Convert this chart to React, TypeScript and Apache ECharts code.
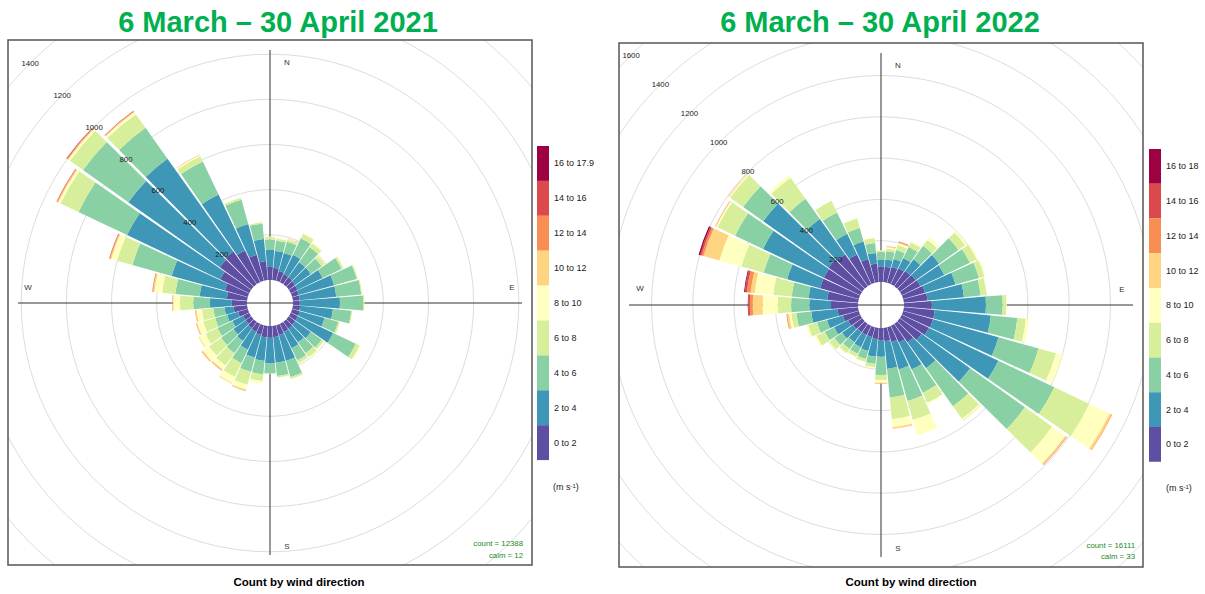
import React, { useEffect, useRef } from "react";
import * as echarts from "echarts";

// ---------- data ----------
const directions = [0, 10, 20, 30, 40, 50, 60, 70, 80, 90, 100, 110, 120, 130, 140, 150, 160, 170, 180, 190, 200, 210, 220, 230, 240, 250, 260, 270, 280, 290, 300, 310, 320, 330, 340, 350];

const bins2021 = ["0 to 2", "2 to 4", "4 to 6", "6 to 8", "8 to 10", "10 to 12", "12 to 14", "14 to 16", "16 to 17.9"];
const bins2022 = ["0 to 2", "2 to 4", "4 to 6", "6 to 8", "8 to 10", "10 to 12", "12 to 14", "14 to 16", "16 to 18"];
const binColors = ["#5E4FA2", "#3F97B7", "#89D0A5", "#D7EF9B", "#FFFFBF", "#FED481", "#F98E52", "#DC494C", "#9E0142"];

const radialTicks2021 = [200, 400, 600, 800, 1000, 1200, 1400];
const radialTicks2022 = [200, 400, 600, 800, 1000, 1200, 1400, 1600];

// 2021 counts per direction, one array per speed bin
const s2021_0to2 = [60, 55, 45, 40, 38, 35, 33, 30, 30, 30, 32, 35, 35, 35, 38, 40, 45, 50, 52, 52, 45, 40, 35, 30, 30, 45, 60, 68, 90, 105, 142, 171, 178, 156, 120, 85];
const s2021_2to4 = [74, 75, 83, 95, 82, 85, 123, 163, 163, 178, 146, 114, 173, 85, 74, 80, 119, 114, 113, 104, 104, 87, 70, 67, 53, 50, 40, 96, 121, 245, 457, 497, 504, 274, 141, 98];
const s2021_4to6 = [45, 45, 52, 81, 81, 59, 93, 104, 111, 103, 82, 63, 111, 59, 59, 59, 74, 59, 45, 59, 66, 66, 66, 67, 73, 55, 50, 74, 108, 180, 238, 246, 168, 162, 112, 68];
const s2021_6to8 = [11, 9, 10, 22, 21, 17, 10, 5, 4, 5, 4, 7, 19, 11, 22, 14, 9, 7, 2, 30, 59, 67, 67, 66, 59, 55, 50, 59, 59, 70, 88, 71, 74, 26, 9, 6];
const s2021_8to10 = [2, 2, 2, 3, 5, 2, 2, 2, 2, 1, 2, 2, 4, 3, 7, 3, 2, 0, 1, 12, 22, 30, 21, 32, 30, 27, 25, 29, 34, 27, 11, 9, 10, 6, 2, 1];
const s2021_10to12 = [1, 1, 1, 0, 0, 0, 0, 0, 0, 0, 0, 0, 0, 0, 0, 0, 0, 0, 0, 0, 5, 4, 5, 6, 3, 4, 5, 3, 6, 5, 4, 4, 4, 1, 0, 0];
const s2021_12to14 = [0, 0, 1, 0, 0, 0, 0, 0, 0, 0, 0, 0, 0, 0, 0, 0, 0, 0, 0, 0, 2, 0, 2, 2, 0, 2, 2, 2, 3, 3, 3, 3, 2, 1, 0, 0];
const s2021_14to16 = [0, 0, 1, 0, 0, 0, 0, 0, 0, 0, 0, 0, 0, 0, 0, 0, 0, 0, 0, 0, 0, 0, 0, 0, 0, 0, 0, 0, 1, 2, 2, 2, 2, 0, 0, 0];
const s2021_16to18 = [0, 0, 0, 0, 0, 0, 0, 0, 0, 0, 0, 0, 0, 0, 0, 0, 0, 0, 0, 0, 0, 0, 0, 0, 0, 0, 0, 0, 0, 0, 0, 1, 0, 0, 0, 0];

// 2022 counts per direction, one array per speed bin
const s2022_0to2 = [75, 75, 80, 85, 90, 95, 100, 110, 115, 135, 150, 150, 145, 130, 110, 90, 75, 65, 60, 55, 50, 50, 50, 55, 65, 80, 100, 131, 150, 195, 195, 200, 190, 160, 120, 90];
const s2022_2to4 = [32, 35, 40, 55, 70, 139, 128, 153, 177, 262, 273, 329, 373, 288, 155, 145, 137, 134, 79, 85, 70, 65, 60, 65, 75, 80, 128, 105, 91, 165, 326, 388, 210, 110, 87, 52];
const s2022_4to6 = [38, 40, 45, 60, 80, 115, 137, 118, 81, 81, 129, 201, 300, 326, 225, 125, 159, 140, 89, 35, 40, 35, 40, 45, 50, 50, 72, 88, 82, 118, 150, 120, 120, 115, 68, 48];
const s2022_6to8 = [7, 13, 25, 25, 35, 40, 37, 27, 29, 18, 42, 88, 188, 162, 75, 53, 95, 105, 24, 17, 15, 18, 25, 30, 45, 45, 25, 65, 90, 112, 94, 77, 125, 62, 48, 25];
const s2022_8to10 = [3, 7, 10, 7, 14, 10, 7, 6, 3, 3, 15, 32, 108, 77, 8, 5, 78, 39, 13, 4, 2, 3, 5, 5, 10, 10, 10, 73, 90, 110, 8, 7, 14, 2, 3, 3];
const s2022_10to12 = [0, 4, 3, 0, 0, 0, 0, 0, 0, 0, 0, 0, 11, 8, 3, 0, 0, 6, 5, 0, 0, 0, 0, 0, 0, 0, 10, 48, 20, 80, 3, 3, 0, 0, 0, 0];
const s2022_12to14 = [0, 2, 3, 0, 0, 0, 0, 0, 0, 0, 0, 0, 3, 3, 0, 0, 0, 2, 1, 0, 0, 0, 0, 0, 0, 0, 4, 14, 18, 10, 2, 1, 0, 0, 0, 0];
const s2022_14to16 = [0, 0, 2, 0, 0, 0, 0, 0, 0, 0, 0, 0, 0, 0, 0, 0, 0, 0, 0, 0, 0, 0, 0, 0, 0, 0, 0, 8, 10, 8, 0, 0, 0, 0, 0, 0];
const s2022_16to18 = [0, 0, 0, 0, 0, 0, 0, 0, 0, 0, 0, 0, 0, 0, 0, 0, 0, 0, 0, 0, 0, 0, 0, 0, 0, 0, 0, 2, 4, 7, 0, 0, 0, 0, 0, 0];

const title2021 = "6 March \u2013 30 April 2021";
const title2022 = "6 March \u2013 30 April 2022";
const caption = "Count by wind direction";
const count2021 = "count = 12388";
const calm2021 = "calm = 12";
const count2022 = "count = 16111";
const calm2022 = "calm = 33";
const compass = ["N", "E", "S", "W"];

// ---------- option builder ----------
const FONT = '"Liberation Sans", Arial, Helvetica, sans-serif';

type Layout = {
  W: number; H: number;
  cx: number; cy: number; inner: number; outer: number;
  frame: [number, number, number, number];
  titleX: number; captionX: number;
  legendTop: number; legendItemH: number; legendLeft: number;
  unitX: number; unitY: number;
  countX: number; countY: number; calmY: number;
  nesw: [number, number][];
};

function buildOption(
  title: string, names: string[], values: number[][], ticks: number[],
  countTxt: string, calmTxt: string, L: Layout
) {
  const max = ticks[ticks.length - 1];
  const interval = ticks[1] - ticks[0];
  const [fx, fy, fw, fh] = L.frame;
  const gridColors = ["rgba(0,0,0,0)", ...ticks.map(() => "#dddddd")];
  const cover = (x: number, y: number, w: number, h: number) => ({
    type: "rect", silent: true, z: 10,
    shape: { x, y, width: w, height: h },
    style: { fill: "#ffffff" },
  });
  const txt = (text: string, x: number, y: number, size: number, extra: any = {}, z = 12) => ({
    type: "text", x, y, z, silent: true,
    style: {
      text, fontSize: size, fontFamily: FONT, fill: "#1a1a1a",
      align: "center", verticalAlign: "middle", ...extra,
    },
  });

  return {
    animation: false,
    textStyle: { fontFamily: FONT },
    polar: [
      { center: [L.cx, L.cy], radius: [L.inner, L.outer] },
      { center: [L.cx, L.cy], radius: [L.inner, L.outer] },
    ],
    angleAxis: [
      {
        polarIndex: 0, type: "category", data: directions.map(String),
        startAngle: 95, clockwise: true, boundaryGap: true,
        axisLine: { show: false }, axisTick: { show: false },
        axisLabel: { show: false }, splitLine: { show: false },
      },
      {
        polarIndex: 1, type: "value", min: 0, max: 360, startAngle: 135,
        axisLine: { show: false }, axisTick: { show: false },
        axisLabel: { show: false }, splitLine: { show: false },
      },
    ],
    radiusAxis: [
      {
        polarIndex: 0, type: "value", min: 0, max, interval, z: 0,
        axisLine: { show: false }, axisTick: { show: false },
        axisLabel: { show: false },
        splitLine: { show: true, lineStyle: { color: gridColors, width: 1 } },
      },
      {
        polarIndex: 1, type: "value", min: 0, max, interval, z: 5,
        axisLine: { show: false }, axisTick: { show: false },
        splitLine: { show: false },
        axisLabel: {
          show: true, showMinLabel: false, showMaxLabel: true, margin: 0,
          align: "center", verticalAlign: "middle",
          fontSize: 7.8, color: "#1a1a1a", fontFamily: FONT,
          formatter: (v: number) => String(v),
        },
      },
    ],
    legend: {
      orient: "vertical", left: L.legendLeft, top: L.legendTop,
      itemWidth: 12, itemHeight: L.legendItemH, itemGap: 0,
      icon: "rect", padding: 0, selectedMode: false, z: 20,
      data: [...names].reverse(),
      textStyle: { fontSize: 9, color: "#1a1a1a", fontFamily: FONT },
    },
    series: values.map((vals, i) => ({
      type: "bar", name: names[i], coordinateSystem: "polar", polarIndex: 0,
      stack: "rose", data: vals, barCategoryGap: "8%",
      itemStyle: { color: binColors[i] },
      silent: true, emphasis: { disabled: true },
    })),
    graphic: {
      elements: [
        // cross lines under bars
        {
          type: "line", z: 1, silent: true,
          shape: { x1: fx + 10, y1: L.cy, x2: fx + fw - 10, y2: L.cy },
          style: { stroke: "#333333", lineWidth: 1 },
        },
        {
          type: "line", z: 1, silent: true,
          shape: { x1: L.cx, y1: fy + 10, x2: L.cx, y2: fy + fh - 10 },
          style: { stroke: "#333333", lineWidth: 1 },
        },
        ...compass.map((c, i) => txt(c, L.cx + L.nesw[i][0], L.cy + L.nesw[i][1], 8, { fill: "#333333" }, 3)),
        // clipping covers outside the frame
        cover(0, 0, L.W, fy),
        cover(0, fy + fh, L.W, L.H - fy - fh),
        cover(0, 0, fx, L.H),
        cover(fx + fw, 0, L.W - fx - fw, L.H),
        {
          type: "rect", z: 11, silent: true,
          shape: { x: fx, y: fy, width: fw, height: fh },
          style: { fill: "none", stroke: "#555555", lineWidth: 1.5 },
        },
        txt(title, L.titleX, 22, 29, { fill: "#00B050", fontWeight: "bold" }),
        txt(caption, L.captionX, 582, 11.5, { fill: "#000000", fontWeight: "bold" }),
        txt(countTxt, L.countX, L.countY, 7.8, { fill: "#228B22", align: "right" }),
        txt(calmTxt, L.countX, L.calmY, 7.8, { fill: "#228B22", align: "right" }),
        {
          type: "text", x: L.unitX, y: L.unitY, z: 12, silent: true,
          style: {
            text: "(m s{sup|-1})", fontSize: 9, fontFamily: FONT, fill: "#1a1a1a",
            align: "left", verticalAlign: "middle",
            rich: { sup: { fontSize: 6, fontFamily: FONT, fill: "#1a1a1a", verticalAlign: "top", lineHeight: 6 } },
          },
        },
      ],
    },
  };
}

const layout2021: Layout = {
  W: 612, H: 594, cx: 270, cy: 303, inner: 23, outer: 23 + 1400 * 0.2258,
  frame: [8, 40, 524, 525], titleX: 278, captionX: 299,
  legendTop: 146, legendItemH: 34.9, legendLeft: 537,
  unitX: 553, unitY: 487, countX: 523, countY: 543, calmY: 555,
  nesw: [[17, -241], [242, -16], [17, 243], [-242, -16]],
};

const layout2022: Layout = {
  W: 593, H: 594, cx: 269, cy: 305, inner: 23, outer: 23 + 1600 * 0.2065,
  frame: [7, 43, 524, 524], titleX: 268, captionX: 299,
  legendTop: 149, legendItemH: 34.75, legendLeft: 537,
  unitX: 554, unitY: 488, countX: 523, countY: 545, calmY: 556,
  nesw: [[17, -240], [241, -16], [17, 243], [-241, -17]],
};

const option2021 = buildOption(
  title2021, bins2021,
  [s2021_0to2, s2021_2to4, s2021_4to6, s2021_6to8, s2021_8to10, s2021_10to12, s2021_12to14, s2021_14to16, s2021_16to18],
  radialTicks2021, count2021, calm2021, layout2021
);
const option2022 = buildOption(
  title2022, bins2022,
  [s2022_0to2, s2022_2to4, s2022_4to6, s2022_6to8, s2022_8to10, s2022_10to12, s2022_12to14, s2022_14to16, s2022_16to18],
  radialTicks2022, count2022, calm2022, layout2022
);

function Rose({ option, style }: { option: any; style: React.CSSProperties }) {
  const ref = useRef<HTMLDivElement>(null);
  useEffect(() => {
    const chart = echarts.init(ref.current as HTMLDivElement, undefined, { renderer: "svg" });
    chart.setOption(option);
    return () => chart.dispose();
  }, [option]);
  return <div ref={ref} style={style} />;
}

export default function App() {
  return (
    <div style={{ position: "fixed", left: 0, top: 0, width: 1205, height: 594, background: "#ffffff", overflow: "hidden" }}>
      <Rose option={option2021} style={{ position: "absolute", left: 0, top: 0, width: 612, height: 594 }} />
      <Rose option={option2022} style={{ position: "absolute", left: 612, top: 0, width: 593, height: 594 }} />
    </div>
  );
}
